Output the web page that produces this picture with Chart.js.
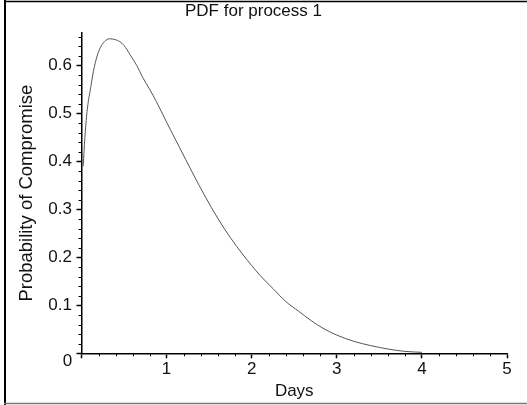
<!DOCTYPE html>
<html><head><meta charset="utf-8">
<script src="https://cdn.jsdelivr.net/npm/chart.js@4.4.1/dist/chart.umd.min.js"></script>
<style>html,body{margin:0;padding:0;background:#fff;}canvas{display:block;}</style>
</head><body>
<canvas id="c" width="527" height="405"></canvas>
<script>
const chartTitle = 'PDF for process 1';
const xTitle = 'Days';
const yTitle = 'Probability of Compromise';
const days = [0.02, 0.04, 0.06, 0.08, 0.10, 0.14, 0.18, 0.22, 0.27, 0.33, 0.40, 0.45, 0.50, 0.57, 0.65, 0.72, 0.80, 0.88, 1.00, 1.15, 1.30, 1.45, 1.60, 1.75, 1.90, 2.00, 2.10, 2.25, 2.40, 2.55, 2.70, 2.85, 3.00, 3.20, 3.40, 3.60, 3.80, 4.00];
const probability = [0.39, 0.45, 0.495, 0.525, 0.546, 0.588, 0.618, 0.637, 0.650, 0.656, 0.654, 0.650, 0.642, 0.623, 0.600, 0.575, 0.551, 0.525, 0.482, 0.430, 0.378, 0.328, 0.282, 0.241, 0.205, 0.183, 0.162, 0.135, 0.108, 0.088, 0.068, 0.051, 0.038, 0.025, 0.016, 0.009, 0.004, 0.002];
const xTicks = [0, 1, 2, 3, 4, 5];
const xTickLabels = ['', '1', '2', '3', '4', '5'];
const yTicks = [0, 0.1, 0.2, 0.3, 0.4, 0.5, 0.6];
const yTickLabels = ['', '0.1', '0.2', '0.3', '0.4', '0.5', '0.6'];
const originLabel = '0';

const FAM = "'Liberation Sans', Arial, sans-serif";
const TXT = '#111';

const decor = {
  id: 'decor',
  afterDraw(chart) {
    const c = chart.ctx, xs = chart.scales.x, ys = chart.scales.y, a = chart.chartArea;
    c.save();
    c.strokeStyle = '#000';
    c.lineWidth = 1;
    c.beginPath();
    for (let i = 1; i < 25; i++) {
      if (i % 5 === 0) continue;
      const px = Math.round(xs.getPixelForValue(i * 0.2)) + 0.5;
      c.moveTo(px, a.bottom); c.lineTo(px, a.bottom + 3);
    }
    for (let i = 1; i <= 33; i++) {
      if (i % 5 === 0) continue;
      const py = Math.round(ys.getPixelForValue(i * 0.02)) + 0.5;
      c.moveTo(a.left - 3, py); c.lineTo(a.left, py);
    }
    c.stroke();
    c.fillStyle = TXT;
    c.font = '17px ' + FAM;
    c.textAlign = 'center';
    c.textBaseline = 'middle';
    c.fillText(originLabel, a.left - 14, a.bottom + 8);
    // outer frame
    c.strokeStyle = '#000';
    c.lineWidth = 2;
    c.beginPath(); c.moveTo(5, 0); c.lineTo(5, 405); c.stroke();
    c.lineWidth = 1.5;
    c.beginPath(); c.moveTo(4, 1.5); c.lineTo(527, 1.5); c.stroke();
    c.strokeStyle = '#777';
    c.beginPath(); c.moveTo(4, 403.5); c.lineTo(527, 403.5); c.stroke();
    c.restore();
  }
};

new Chart(document.getElementById('c'), {
  type: 'scatter',
  data: {
    datasets: [{
      data: days.map((d, i) => ({ x: d, y: probability[i] })),
      showLine: true,
      borderColor: '#555',
      borderWidth: 1,
      pointRadius: 0,
      cubicInterpolationMode: 'monotone',
      fill: false
    }]
  },
  options: {
    responsive: false,
    animation: false,
    layout: { padding: { left: 0, right: 20, top: 0, bottom: 0 } },
    plugins: {
      legend: { display: false },
      tooltip: { enabled: false },
      title: {
        display: true, text: chartTitle, color: TXT,
        font: { family: FAM, size: 17, weight: 'normal' },
        padding: { top: 0.8, bottom: 11.8 }
      }
    },
    scales: {
      x: {
        type: 'linear', min: 0, max: 5,
        afterBuildTicks: s => { s.ticks = xTicks.map(v => ({ value: v })); },
        afterFit: s => { s.height = 51.7; },
        ticks: {
          callback: v => xTickLabels[xTicks.indexOf(v)],
          color: TXT, font: { family: FAM, size: 17 }, padding: 1,
          maxRotation: 0, autoSkip: false
        },
        grid: { display: true, drawOnChartArea: false, drawTicks: true, tickLength: 5, tickColor: '#000', tickWidth: 1.5 },
        border: { display: true, color: '#000', width: 1.5 },
        title: { display: true, text: xTitle, color: TXT, font: { family: FAM, size: 17 }, padding: { top: 0, bottom: 3.3 } }
      },
      y: {
        type: 'linear', min: 0, max: 0.668,
        afterBuildTicks: s => { s.ticks = yTicks.map(v => ({ value: v })); },
        afterFit: s => { s.width = 81.5; },
        ticks: {
          callback: v => yTickLabels[yTicks.findIndex(t => Math.abs(t - v) < 1e-9)],
          color: TXT, font: { family: FAM, size: 17 }, padding: 4.5, autoSkip: false
        },
        grid: { display: true, drawOnChartArea: false, drawTicks: true, tickLength: 5, tickColor: '#000', tickWidth: 1.5 },
        border: { display: true, color: '#000', width: 1.5 },
        title: { display: true, text: yTitle, color: TXT, font: { family: FAM, size: 18.5 }, padding: { top: 16, bottom: 0 } }
      }
    }
  },
  plugins: [decor]
});
</script>
</body></html>
